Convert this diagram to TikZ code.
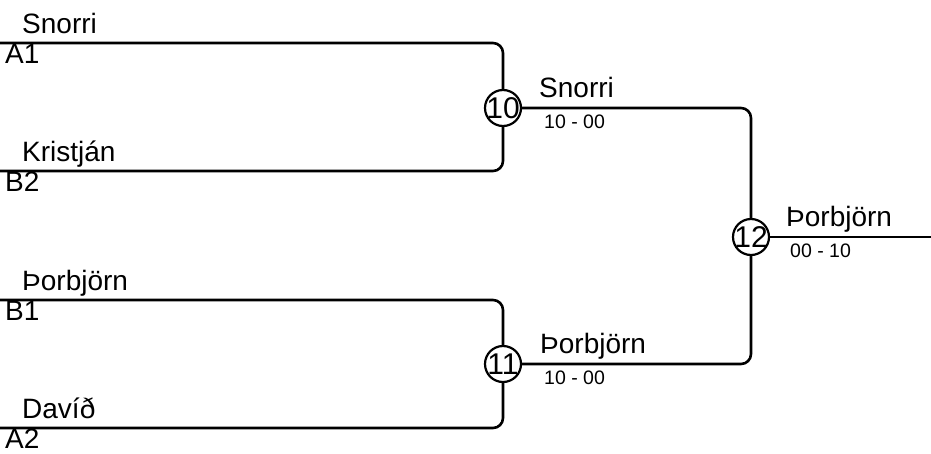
\documentclass[tikz,border=0pt]{standalone}
\usepackage{fontspec}
\setmainfont{Liberation Sans}
\usepackage{tikz}
\usetikzlibrary{positioning}
\tikzstyle{bracket} = [line width=2.6pt, rounded corners=10pt]
\tikzstyle{game} = [circle, draw, line width=2.2pt, fill=white, minimum size=36pt, inner sep=0pt, font=\fontsize{30}{30}\selectfont]
\tikzstyle{player} = [anchor=base west, inner sep=0pt, font=\fontsize{28}{30}\selectfont]
\tikzstyle{seed} = [anchor=base west, inner sep=0pt, font=\fontsize{28}{30}\selectfont]
\tikzstyle{score} = [anchor=base west, inner sep=0pt, font=\fontsize{19.5}{20}\selectfont]

\begin{document}
\begin{tikzpicture}[x=1pt, y=-1pt]
\useasboundingbox (0,0) rectangle (931,453);

% First round names
\node[player] (p1) at (22,33) {Snorri};
\node[seed] (s1) at (5,63) {A1};
\node[player] (p2) at (22,161) {Kristján};
\node[seed] (s2) at (5,191) {B2};
\node[player] (p3) at (22,290) {Þorbjörn};
\node[seed] (s3) at (5,320) {B1};
\node[player] (p4) at (22,418) {Davíð};
\node[seed] (s4) at (5,448) {A2};

% Free ends of the first round
\coordinate (a1) at (0,43);
\coordinate (b2) at (0,171);
\coordinate (b1) at (0,300);
\coordinate (a2) at (0,428);
\coordinate (out) at (931,237);

% Games
\node[game] (m10) at (503,108) {\makebox[0pt]{10}};
\node[game] (m11) at (503,364) {\makebox[0pt]{11}};
\node[game] (m12) at (751,237) {\makebox[0pt]{12}};

% Brackets
\draw[bracket] (a1) -| (m10);
\draw[bracket] (b2) -| (m10);
\draw[bracket] (b1) -| (m11);
\draw[bracket] (a2) -| (m11);
\draw[bracket] (m10) -| (m12);
\draw[bracket] (m11) -| (m12);
\draw[bracket] (m12) -- (out);

% Winners
\node[player] (w10) at (539,97) {Snorri};
\node[score] (r10) at (544,128) {10 - 00};
\node[player] (w11) at (540,353) {Þorbjörn};
\node[score] (r11) at (544,384) {10 - 00};
\node[player] (w12) at (786,226) {Þorbjörn};
\node[score] (r12) at (790,257) {00 - 10};
\end{tikzpicture}
\end{document}
